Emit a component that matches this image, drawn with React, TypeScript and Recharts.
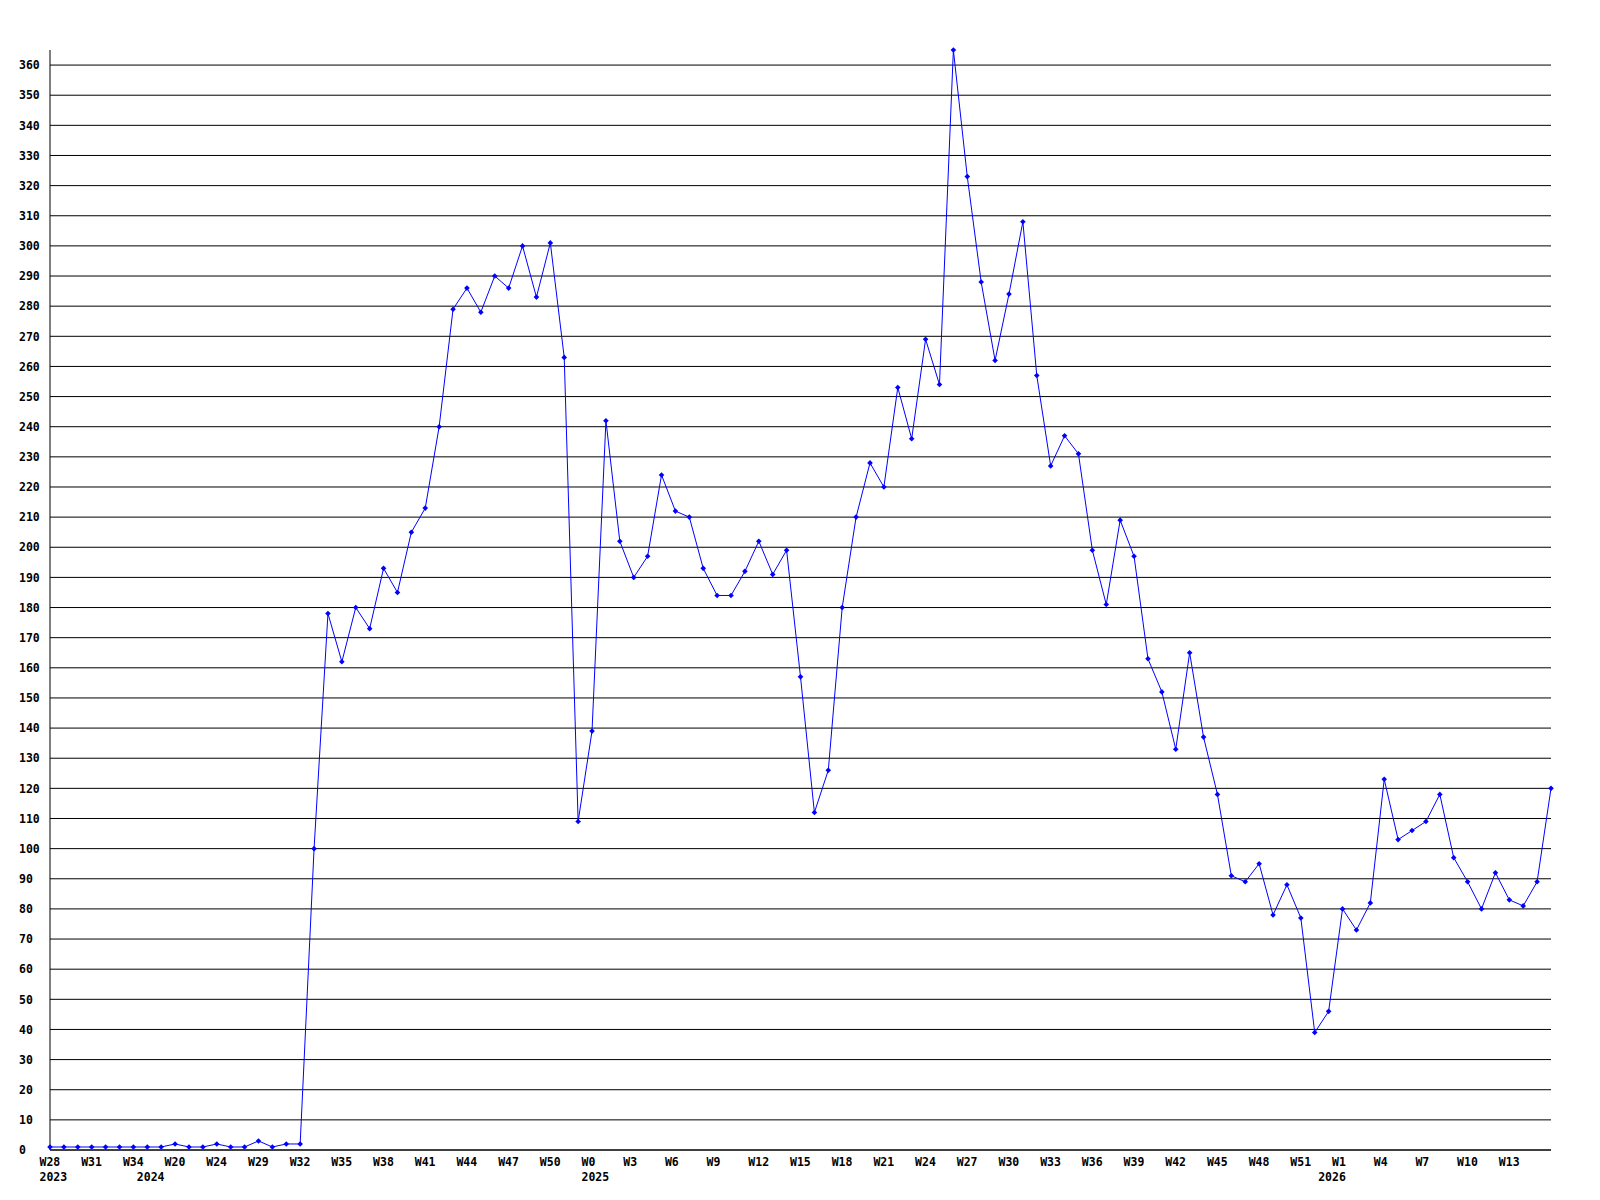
import { CartesianGrid, Line, LineChart, XAxis, YAxis } from 'recharts'

// weekly counts, one point per week shown on the chart
const counts = [
  1, 1, 1, 1, 1, 1, 1, 1, 1, 2, 1, 1, 2, 1, 1, 3, 1, 2, 2, 100,
  178, 162, 180, 173, 193, 185, 205, 213, 240, 279, 286, 278, 290, 286, 300, 283, 301, 263, 109, 139,
  242, 202, 190, 197, 224, 212, 210, 193, 184, 184, 192, 202, 191, 199, 157, 112, 126, 180, 210, 228,
  220, 253, 236, 269, 254, 365, 323, 288, 262, 284, 308, 257, 227, 237, 231, 199, 181, 209, 197, 163,
  152, 133, 165, 137, 118, 91, 89, 95, 78, 88, 77, 39, 46, 80, 73, 82, 123, 103, 106, 109,
  118, 97, 89, 80, 92, 83, 81, 89, 120,
]

// a label every third week
const weekLabels = [
  'W28', 'W31', 'W34', 'W20', 'W24', 'W29', 'W32', 'W35', 'W38', 'W41', 'W44', 'W47', 'W50',
  'W0', 'W3', 'W6', 'W9', 'W12', 'W15', 'W18', 'W21', 'W24', 'W27', 'W30', 'W33', 'W36',
  'W39', 'W42', 'W45', 'W48', 'W51', 'W1', 'W4', 'W7', 'W10', 'W13',
]

// first week of each year in the series
const yearStarts: [number, string][] = [
  [0, '2023'],
  [7, '2024'],
  [39, '2025'],
  [92, '2026'],
]

const yTicks = [
  0, 10, 20, 30, 40, 50, 60, 70, 80, 90, 100, 110, 120, 130, 140, 150, 160, 170, 180,
  190, 200, 210, 220, 230, 240, 250, 260, 270, 280, 290, 300, 310, 320, 330, 340, 350, 360,
]

const data = counts.map((v, i) => ({ i, v }))

const font = { fontFamily: '"DejaVu Sans Mono", monospace', fontWeight: 700, fontSize: 11.5, fill: '#000' }

function WeekTick(props: any) {
  const { x, y, payload } = props
  const idx = Number(payload.value)
  const year = yearStarts.find((s) => s[0] === idx)
  return (
    <g>
      {idx % 3 === 0 && weekLabels[idx / 3] && (
        <text x={x - 10.5} y={y + 15.5} textAnchor="start" {...font}>
          {weekLabels[idx / 3]}
        </text>
      )}
      {year && (
        <text x={x - 10.5} y={y + 31} textAnchor="start" {...font}>
          {year[1]}
        </text>
      )}
    </g>
  )
}

function ValueTick(props: any) {
  const { y, payload } = props
  return (
    <text x={19} y={y + 4.2} textAnchor="start" {...font}>
      {payload.value}
    </text>
  )
}

function Marker(props: any) {
  const { cx, cy } = props
  if (cx == null || cy == null) return <g />
  return <path d={`M${cx} ${cy - 2.8} L${cx + 2.8} ${cy} L${cx} ${cy + 2.8} L${cx - 2.8} ${cy} Z`} fill="#0000ff" stroke="none" />
}

export default function App() {
  return (
    <div style={{ position: 'absolute', left: 0, top: 0, width: 1600, height: 1200, background: '#fff' }}>
      <LineChart width={1600} height={1200} data={data} margin={{ top: 50, right: 49, bottom: 0, left: 0 }}>
        <CartesianGrid horizontal vertical={false} horizontalValues={yTicks} stroke="#000" strokeOpacity={1} />
        <XAxis
          dataKey="i"
          type="category"
          interval={0}
          height={50}
          tickSize={0}
          tickMargin={0}
          tickLine={false}
          axisLine={{ stroke: '#000' }}
          tick={<WeekTick />}
        />
        <YAxis
          width={50}
          domain={[0, 365]}
          ticks={yTicks}
          interval={0}
          tickLine={false}
          axisLine={{ stroke: '#000' }}
          tick={<ValueTick />}
        />
        <Line
          type="linear"
          dataKey="v"
          stroke="#0000ff"
          strokeWidth={1}
          dot={<Marker />}
          activeDot={false}
          isAnimationActive={false}
        />
      </LineChart>
    </div>
  )
}
